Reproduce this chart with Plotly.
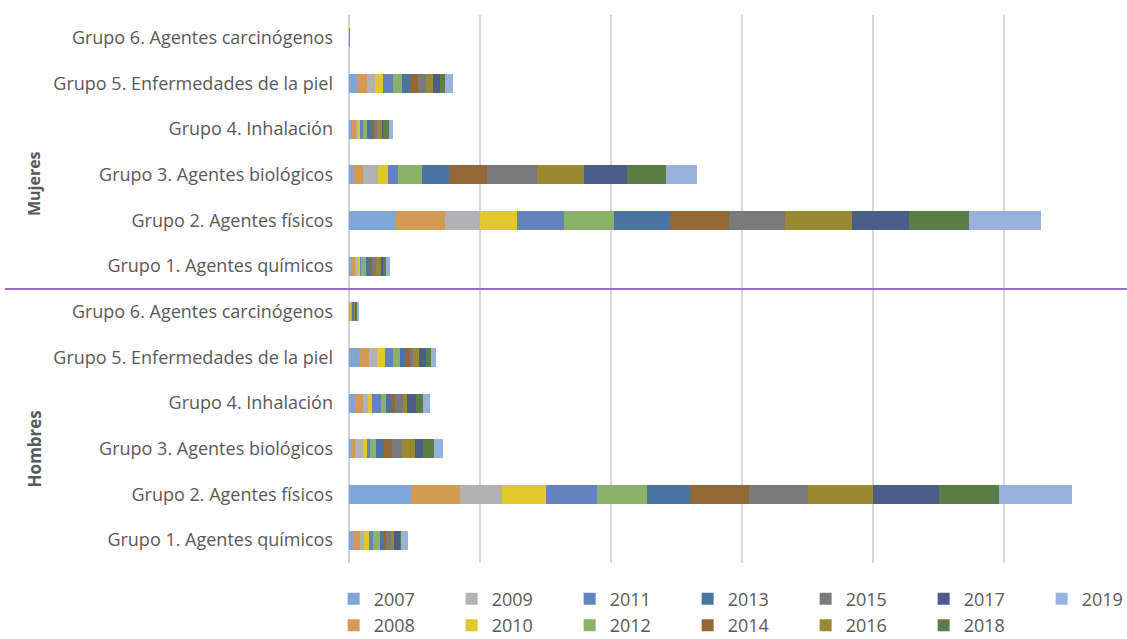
import plotly.graph_objects as go

# Categories (bottom to top as drawn)
grupos = ["Grupo 1. Agentes químicos", "Grupo 2. Agentes físicos", "Grupo 3. Agentes biológicos",
          "Grupo 4. Inhalación", "Grupo 5. Enfermedades de la piel", "Grupo 6. Agentes carcinógenos"]
sexos = ["Hombres", "Mujeres"]
years = ["2007", "2008", "2009", "2010", "2011", "2012", "2013",
         "2014", "2015", "2016", "2017", "2018", "2019"]

# values per year, order: G1..G6
hombres = {
    "2007": [3.1, 48, 1.5, 4.6, 7.6, 0.4],
    "2008": [5.3, 37, 3.1, 6.1, 7.6, 0.6],
    "2009": [3.1, 32, 6.1, 3.8, 6.1, 0.4],
    "2010": [3.8, 33, 3.1, 3.1, 6.1, 0.3],
    "2011": [3.1, 39, 2.3, 6.9, 6.1, 0.5],
    "2012": [5.3, 38, 4.6, 3.8, 5.3, 0.6],
    "2013": [2.3, 33, 5.3, 3.8, 3.8, 0.5],
    "2014": [2.3, 45, 6.9, 3.1, 3.8, 0.6],
    "2015": [3.8, 45, 7.6, 6.1, 2.3, 0.5],
    "2016": [2.3, 50, 9.9, 3.1, 4.6, 0.8],
    "2017": [4.6, 50, 6.1, 6.9, 5.3, 0.4],
    "2018": [0.8, 46, 8.4, 5.3, 3.8, 0.8],
    "2019": [5.3, 56, 6.9, 5.3, 3.8, 0.6],
}
mujeres = {
    "2007": [1.5, 36, 3.1, 2.0, 6.1, 0],
    "2008": [3.1, 37, 7.6, 3.3, 7.6, 0],
    "2009": [2.3, 27, 11.5, 2.3, 6.1, 0],
    "2010": [1.5, 28, 7.6, 0.8, 6.1, 0],
    "2011": [0.8, 36, 7.6, 2.3, 7.6, 0],
    "2012": [3.8, 38, 18.3, 3.1, 6.9, 0],
    "2013": [3.1, 43, 20.6, 3.3, 6.1, 0],
    "2014": [1.5, 45, 29, 1.8, 5.9, 0],
    "2015": [3.1, 43, 38.2, 2.5, 6.4, 0],
    "2016": [3.8, 51, 35.9, 3.8, 5.3, 0.6],
    "2017": [1.5, 43, 32.8, 0.8, 5.3, 0],
    "2018": [2.3, 46, 29.8, 4.6, 3.8, 0],
    "2019": [3.1, 55, 23.7, 3.1, 6.1, 0],
}

colors = {
    "2007": "#7fa6d8", "2008": "#d39a53", "2009": "#b2b2b6", "2010": "#e3c82b",
    "2011": "#6383bf", "2012": "#8ab268", "2013": "#4a74a1", "2014": "#926935",
    "2015": "#7a7a7c", "2016": "#998a32", "2017": "#4a5e88", "2018": "#5b7d46",
    "2019": "#97b3db",
}

cats = [s + "|" + g for s in sexos for g in grupos]
labels = [g for s in sexos for g in grupos]

fig = go.Figure()
for i, yr in enumerate(years):
    fig.add_trace(go.Bar(
        y=cats, x=hombres[yr] + mujeres[yr], name=yr, orientation="h",
        marker=dict(color=colors[yr], line=dict(width=0)),
        legend="legend" if i % 2 == 0 else "legend2",
    ))

text_col = "#595959"
leg = dict(orientation="h", xref="paper", x=-0.02, xanchor="left", yanchor="middle",
           traceorder="normal", entrywidth=73, entrywidthmode="pixels",
           font=dict(size=18, color=text_col), bgcolor="rgba(0,0,0,0)", itemclick=False)

fig.update_layout(
    barmode="stack", bargap=0.58,
    width=1127, height=639,
    margin=dict(l=349, r=10, t=15, b=76, autoexpand=False),
    plot_bgcolor="white", paper_bgcolor="white",
    font=dict(family="Open Sans", color=text_col),
    xaxis=dict(range=[0, 586], dtick=100, showticklabels=False, showgrid=True,
               gridcolor="#d9d9d9", gridwidth=1.5, zeroline=True, zerolinecolor="#d0d0d0",
               zerolinewidth=1.5),
    yaxis=dict(type="category", categoryorder="array", categoryarray=cats,
               tickmode="array", tickvals=cats, ticktext=labels, ticks="",
               ticklabelstandoff=15, automargin=False,
               tickfont=dict(size=18, color=text_col), range=[-0.5, 11.5]),
    legend=dict(leg, y=-0.066),
    legend2=dict(leg, y=-0.114),
    showlegend=True,
)

# separator between the two sexes and group labels
fig.add_shape(type="line", xref="paper", yref="y", x0=-0.448, x1=1.02,
              y0=5.5, y1=5.5, line=dict(color="#9e6fc8", width=2))
fig.add_annotation(text="<b>Mujeres</b>", xref="paper", yref="y", x=-0.427, y=7.8,
                   textangle=-90, showarrow=False, font=dict(size=16, color=text_col))
fig.add_annotation(text="<b>Hombres</b>", xref="paper", yref="y", x=-0.427, y=2.0,
                   textangle=-90, showarrow=False, font=dict(size=17, color=text_col))

fig.write_html("out.html", config={"displayModeBar": False},
               post_script="document.body.style.margin='0px';")
